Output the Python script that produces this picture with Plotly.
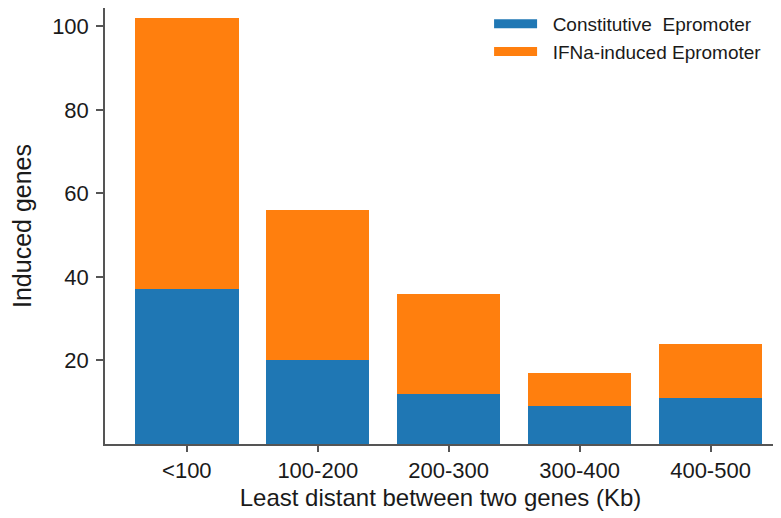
import plotly.graph_objects as go

# distance bins and stacked counts
categories = ['<100', '100-200', '200-300', '300-400', '400-500']
constitutive = [37, 20, 12, 9, 11]
ifna_induced = [65, 36, 24, 8, 13]
y_ticks = [20, 40, 60, 80, 100]

blue = '#1f77b4'
orange = '#ff7f0e'
axis_col = '#555555'
pad = '\u00a0\u00a0'

fig = go.Figure()
fig.add_trace(go.Bar(x=categories, y=constitutive, name='Constitutive  Epromoter',
                     marker=dict(color=blue, line=dict(width=0)), showlegend=False))
fig.add_trace(go.Bar(x=categories, y=ifna_induced, name='IFNa-induced Epromoter',
                     marker=dict(color=orange, line=dict(width=0)), showlegend=False))

# legend entries drawn as wide flat swatches, like the original
for nm, col in [('Constitutive\u00a0\u00a0Epromoter', blue), ('IFNa-induced Epromoter', orange)]:
    fig.add_trace(go.Scatter(x=[None], y=[None], mode='lines', name=pad + nm,
                             legendgroup=nm, line=dict(color=col, width=9)))

# page body adds 8px, so figure is 8px smaller than the window
fig.update_layout(
    barmode='stack',
    bargap=0.21,
    width=773, height=510,
    margin=dict(l=97, r=5, t=0, b=74, autoexpand=False),
    plot_bgcolor='white', paper_bgcolor='white',
    font=dict(family='Liberation Sans, Arial', size=22, color='#1a1a1a'),
    legend=dict(x=0.5724, y=1.007, xanchor='left', yanchor='top', traceorder='normal',
                font=dict(size=19), itemwidth=43, bgcolor='rgba(0,0,0,0)',
                tracegroupgap=11),
)
fig.update_xaxes(
    range=[-0.625, 4.5], automargin=False,
    showline=True, linecolor=axis_col, linewidth=1.5,
    ticks='outside', ticklen=6, tickcolor=axis_col, tickwidth=1.5,
    tickfont=dict(size=22),
    title=dict(text='Least distant between two genes (Kb)', font=dict(size=24), standoff=7),
)
fig.update_yaxes(
    range=[0, 104.4], automargin=False,
    tickvals=y_ticks,
    showline=True, linecolor=axis_col, linewidth=1.5,
    ticks='outside', ticklen=7, tickcolor=axis_col, tickwidth=1.5,
    ticklabelstandoff=3,
    showgrid=False, zeroline=False,
    tickfont=dict(size=22),
    title=dict(text='Induced genes', font=dict(size=25), standoff=23),
)

fig.write_html("out.html")
